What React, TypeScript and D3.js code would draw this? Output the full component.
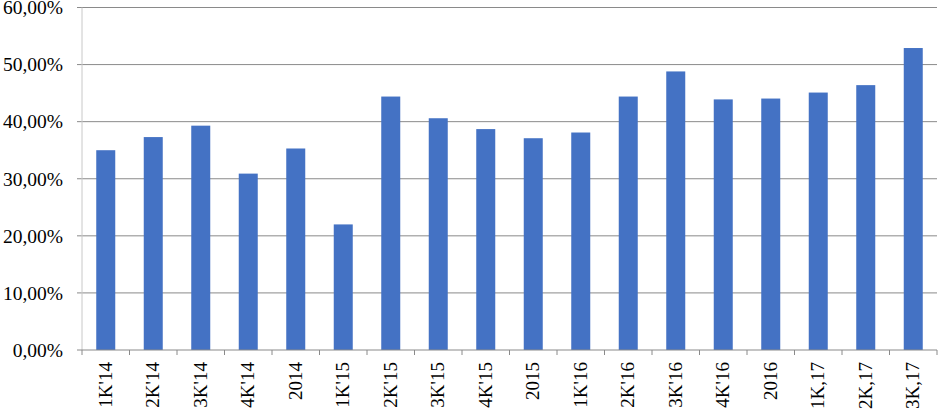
import React from "react";
import * as d3 from "d3";

const categories = ["1K'14", "2K'14", "3K'14", "4K'14", "2014", "1K'15", "2K'15", "3K'15", "4K'15", "2015", "1K'16", "2K'16", "3K'16", "4K'16", "2016", "1K,17", "2K,17", "3K,17"];
const values = [35.0, 37.3, 39.3, 30.9, 35.3, 22.0, 44.4, 40.6, 38.7, 37.1, 38.1, 44.4, 48.8, 43.9, 44.05, 45.1, 46.4, 52.9];
const yTicks = [0, 10, 20, 30, 40, 50, 60];

const W = 938, H = 412;
const left = 82, right = 937, top = 7.5, bottom = 350;

export default function App() {
  const x = d3.scaleBand<string>().domain(categories).range([left, right]).paddingInner(0.6).paddingOuter(0.3);
  const xb = d3.scaleBand<string>().domain(categories).range([left, right]);
  const y = d3.scaleLinear().domain([0, 60]).range([bottom, top]);
  const fmt = (v: number) => v.toFixed(2).replace(".", ",") + "%";
  const font = "'Liberation Serif', 'Times New Roman', serif";
  return (
    <svg width={W} height={H} style={{ position: "absolute", left: 0, top: 0, background: "#fff" }}>
      {yTicks.map((t) => (
        <g key={t}>
          {t > 0 && <line x1={left - 5} x2={right} y1={y(t)} y2={y(t)} stroke="#8a8a8a" strokeWidth={1} />}
          <text x={63} y={y(t)} dy="0.35em" textAnchor="end" fontFamily={font} fontSize={19.5} fill="#000">{fmt(t)}</text>
        </g>
      ))}
      <line x1={left} x2={left} y1={top} y2={bottom} stroke="#c8c8c8" strokeWidth={1} />
      {categories.map((c, i) => (
        <rect key={c} x={x(c)!} y={y(values[i])} width={x.bandwidth()} height={bottom - y(values[i])} fill="#4472C4" />
      ))}
      <line x1={left - 5} x2={right} y1={bottom} y2={bottom} stroke="#8a8a8a" strokeWidth={1} />
      {[...categories.map((c) => xb(c)!), right].map((px, i) => (
        <line key={i} x1={px} x2={px} y1={bottom} y2={bottom + 5} stroke="#8a8a8a" strokeWidth={1} />
      ))}
      {categories.map((c) => {
        const cx = xb(c)! + xb.bandwidth() / 2 + 6;
        return (
          <text key={c} transform={`translate(${cx},362) rotate(-90)`} textAnchor="end" fontFamily={font} fontSize={19} fill="#000">{c}</text>
        );
      })}
    </svg>
  );
}
